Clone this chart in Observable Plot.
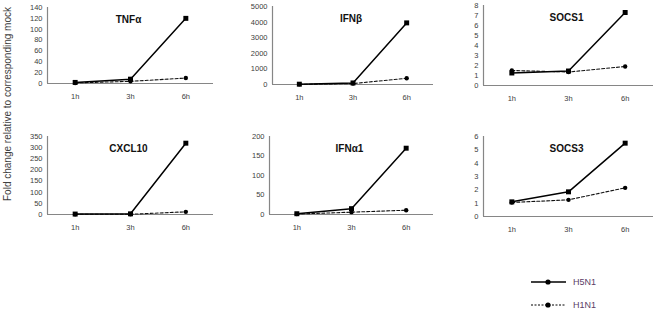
<!DOCTYPE html>
<html>
<head>
<meta charset="utf-8">
<script src="https://cdn.jsdelivr.net/npm/d3@7"></script>
<script src="https://cdn.jsdelivr.net/npm/@observablehq/plot@0.6"></script>
<style>
  html, body { margin: 0; padding: 0; background: #fff; }
  #wrap { position: relative; width: 661px; height: 314px; overflow: hidden; font-family: Arial, "Liberation Sans", sans-serif; }
  #wrap > svg, #wrap > figure { position: absolute; margin: 0; }
</style>
</head>
<body>
<div id="wrap"></div>
<script>
// ---- data ----
const times = ["1h", "3h", "6h"];
const genes = ["TNFα", "IFNβ", "SOCS1", "CXCL10", "IFNα1", "SOCS3"];
const seriesNames = ["H5N1", "H1N1"];
const h5n1 = [
  [2, 8, 120],
  [20, 100, 3950],
  [1.25, 1.45, 7.3],
  [2, 3, 320],
  [2, 15, 170],
  [1.1, 1.85, 5.5]
];
const h1n1 = [
  [1, 4, 10],
  [10, 60, 400],
  [1.5, 1.35, 1.9],
  [1, 1, 12],
  [1, 6, 11],
  [1.05, 1.25, 2.15]
];
const yMax = [140, 5000, 8, 350, 200, 6];
const yStep = [20, 1000, 1, 50, 50, 1];
const yTitle = "Fold change relative to corresponding mock";

// ---- layout ----
const layout = [
  {left: 0,   top: 0,   width: 220, height: 105, ml: 47, mr: 7, mt: 7,  mb: 22},
  {left: 220, top: 0,   width: 220, height: 105, ml: 52, mr: 7, mt: 6,  mb: 21},
  {left: 440, top: 0,   width: 221, height: 105, ml: 43, mr: 8, mt: 5,  mb: 20},
  {left: 0,   top: 120, width: 220, height: 116, ml: 47, mr: 7, mt: 16, mb: 22},
  {left: 220, top: 120, width: 220, height: 116, ml: 49, mr: 7, mt: 16, mb: 22},
  {left: 440, top: 120, width: 221, height: 116, ml: 43, mr: 8, mt: 16, mb: 20}
];

const wrap = document.getElementById("wrap");
const axisColor = "#868686";
const labelColor = "#404040";

genes.forEach((gene, g) => {
  const L = layout[g];
  const rows5 = times.map((t, i) => ({i, v: h5n1[g][i], s: seriesNames[0]}));
  const rows1 = times.map((t, i) => ({i, v: h1n1[g][i], s: seriesNames[1]}));
  const ticks = d3.range(0, yMax[g] + yStep[g] / 2, yStep[g]);
  const chart = Plot.plot({
    width: L.width,
    height: L.height,
    marginLeft: L.ml,
    marginRight: L.mr,
    marginTop: L.mt,
    marginBottom: L.mb,
    style: {fontFamily: "Arial, 'Liberation Sans', sans-serif", fontSize: "7.5px", color: labelColor, background: "transparent"},
    x: {domain: [-0.5, times.length - 0.5]},
    y: {domain: [0, yMax[g]]},
    marks: [
      Plot.ruleY([0], {stroke: axisColor, strokeWidth: 1.2}),
      Plot.ruleX([-0.5], {stroke: axisColor, strokeWidth: 1.2}),
      Plot.axisY({ticks, tickFormat: d => String(d), tickSize: 0, tickPadding: 5, label: null, fill: labelColor}),
      Plot.axisX({ticks: times.map((t, i) => i), tickFormat: i => times[i], tickSize: 0, tickPadding: 10, label: null, fill: labelColor}),
      Plot.line(rows1, {x: "i", y: "v", stroke: "#111", strokeWidth: 1.1, strokeDasharray: "3,2"}),
      Plot.dot(rows1, {x: "i", y: "v", symbol: "circle", r: 2.2, fill: "#000", stroke: "none"}),
      Plot.line(rows5, {x: "i", y: "v", stroke: "#000", strokeWidth: 1.5}),
      Plot.dot(rows5, {x: "i", y: "v", symbol: "square", r: 2.8, fill: "#000", stroke: "none"}),
      Plot.text([gene], {frameAnchor: "top", dy: 8, dx: -2, fontWeight: "bold", fontSize: 10, fill: "#111"})
    ]
  });
  chart.style.left = L.left + "px";
  chart.style.top = L.top + "px";
  wrap.appendChild(chart);
});

// ---- overlay: y title and legend ----
const svg = d3.select(wrap).append("svg")
  .attr("width", 661).attr("height", 314)
  .style("left", "0px").style("top", "0px")
  .style("pointer-events", "none")
  .attr("font-family", "Arial, 'Liberation Sans', sans-serif");

svg.append("text")
  .attr("transform", "translate(11,104) rotate(-90)")
  .attr("text-anchor", "middle")
  .attr("font-size", 10)
  .attr("fill", "#404040")
  .text(yTitle);

const legendY = [282, 305];
seriesNames.forEach((name, k) => {
  const y = legendY[k];
  svg.append("line")
    .attr("x1", 531).attr("x2", 566).attr("y1", y).attr("y2", y)
    .attr("stroke", "#000").attr("stroke-width", k === 0 ? 1.3 : 1)
    .attr("stroke-dasharray", k === 0 ? null : "2,1.5");
  svg.append("circle").attr("cx", 548).attr("cy", y).attr("r", 2.6).attr("fill", "#000");
  svg.append("text")
    .attr("x", 573).attr("y", y).attr("dy", "0.35em")
    .attr("font-size", 9).attr("fill", "#5a3d66")
    .text(name);
});
</script>
</body>
</html>
